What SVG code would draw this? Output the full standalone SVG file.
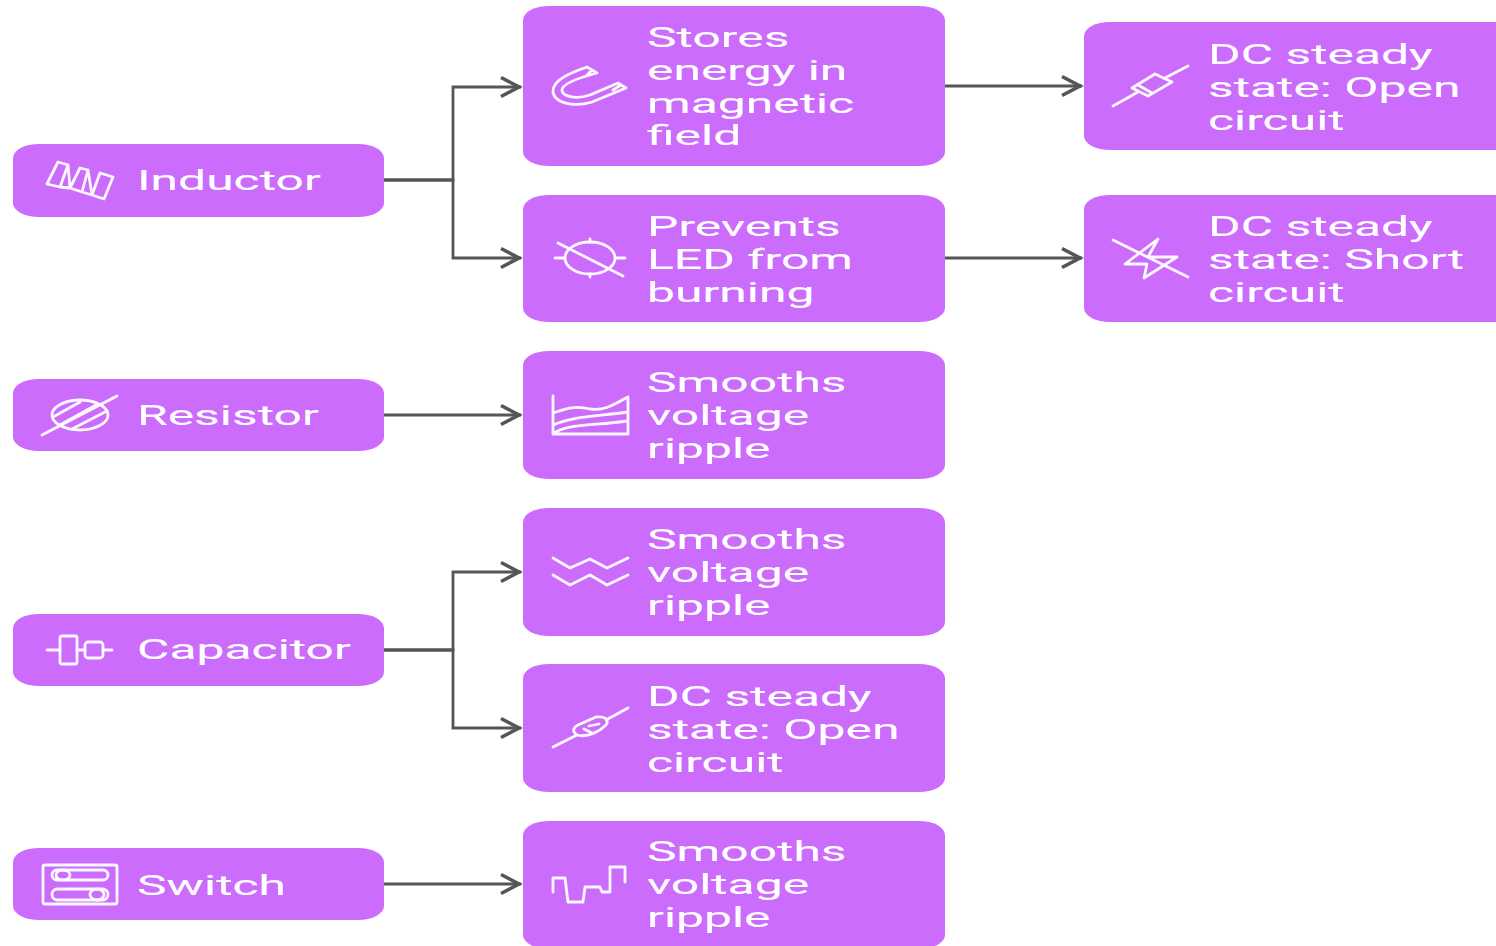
<svg xmlns="http://www.w3.org/2000/svg" width="1496" height="946" viewBox="0 0 1496 946">
<style>
.b{fill:#cc6cfc}
.t{font-family:Roboto,"Liberation Sans",sans-serif;font-size:14px;fill:#fff;font-weight:400;stroke:#fff;stroke-width:.06}
.i{fill:none;stroke:#fff;stroke-width:2.8;stroke-linecap:round;stroke-linejoin:round;opacity:.95}
.c{fill:none;stroke:#555;stroke-width:2.8}
</style>
<defs>
<filter id="s" x="-5%" y="-5%" width="110%" height="110%"><feGaussianBlur stdDeviation="0.75"/></filter>
<marker id="a" markerUnits="userSpaceOnUse" markerWidth="30" markerHeight="30" refX="22" refY="12" orient="auto"><path d="M2,2.5L20,12L2,21.5" fill="none" stroke="#555" stroke-width="3.6"/></marker>
</defs>
<rect width="1496" height="946" fill="#fff"/>
<g filter="url(#s)">
<g id="connectors">
<path class="c" marker-end="url(#a)" d="M384,180H453V87H521"/>
<path class="c" marker-end="url(#a)" d="M384,180H453V258H521"/>
<path class="c" marker-end="url(#a)" d="M945,86H1082"/>
<path class="c" marker-end="url(#a)" d="M945,258H1082"/>
<path class="c" marker-end="url(#a)" d="M384,415H521"/>
<path class="c" marker-end="url(#a)" d="M384,650H453V572H521"/>
<path class="c" marker-end="url(#a)" d="M384,650H453V728H521"/>
<path class="c" marker-end="url(#a)" d="M384,884H521"/>
</g>
<g id="inductor"><rect class="b" x="13" y="144" width="371" height="73" rx="26" ry="14"/>
<path class="i" d="M47,184L58,162L68,165L60,187L47,184M68,165L70,188L60,187M70,188L80,168L88,170L82,192L70,188M88,170L92,195L82,192M92,195L100,173L113,177L104,199L92,195"/>
<text class="t" transform="translate(137,190) scale(3.56,2)">Inductor</text></g>
<g id="resistor"><rect class="b" x="13" y="379" width="371" height="72" rx="26" ry="14"/>
<ellipse class="i" cx="80" cy="415" rx="28" ry="15"/>
<path class="i" d="M42,435L117,396M53,417L80,402M58,426L96,405M72,429L107,411"/>
<text class="t" transform="translate(137,425) scale(3.56,2)">Resistor</text></g>
<g id="capacitor"><rect class="b" x="13" y="614" width="371" height="72" rx="26" ry="14"/>
<path class="i" d="M47,650H60M77,650H85M103,650H112"/><rect class="i" x="60" y="636" width="17" height="28" rx="2"/><rect class="i" x="85" y="642" width="18" height="16" rx="3"/>
<text class="t" transform="translate(137,659) scale(3.56,2)">Capacitor</text></g>
<g id="switch"><rect class="b" x="13" y="848" width="371" height="72" rx="26" ry="14"/>
<rect class="i" x="43" y="865" width="74" height="39" rx="2"/>
<rect class="i" x="52" y="870" width="56" height="10" rx="5"/><rect class="i" x="52" y="889" width="56" height="11" rx="5.5"/>
<ellipse class="i" cx="63" cy="875" rx="7" ry="5"/><ellipse class="i" cx="97" cy="894.500" rx="7" ry="5.500"/>
<text class="t" transform="translate(137,895) scale(3.56,2)">Switch</text></g>
<g id="stores"><rect class="b" x="523" y="6" width="422" height="160" rx="26" ry="14"/>
<path class="i" d="M587,67C570,73 553,80 553,91C553,102 572,108 592,102L626,88L618,83L590,95C575,100 562,96 562,90C562,84 578,78 597,73ZM592,70L587,75M621,85L613,90"/>
<text class="t" transform="translate(647,47) scale(3.56,2)"><tspan x="0">Stores</tspan><tspan x="0" dy="16.4">energy in</tspan><tspan x="0" dy="16.4">magnetic</tspan><tspan x="0" dy="16.4">field</tspan></text></g>
<g id="prevents"><rect class="b" x="523" y="195" width="422" height="127" rx="26" ry="14"/>
<ellipse class="i" cx="590" cy="258" rx="25" ry="16"/>
<path class="i" d="M555,258H564M616,258H625M590,239V242M590,274V277M558,243L623,276"/>
<text class="t" transform="translate(647,236) scale(3.56,2)"><tspan x="0">Prevents</tspan><tspan x="0" dy="16.4">LED from</tspan><tspan x="0" dy="16.4">burning</tspan></text></g>
<g id="smooths-a"><rect class="b" x="523" y="351" width="422" height="128" rx="26" ry="14"/>
<path class="i" d="M553,396V434H628V397C615,404 605,411 590,409C575,405 565,409 553,413M553,425C570,417 590,417 628,412M553,434C565,424 590,426 628,421"/>
<text class="t" transform="translate(647,392) scale(3.56,2)"><tspan x="0">Smooths</tspan><tspan x="0" dy="16.4">voltage</tspan><tspan x="0" dy="16.4">ripple</tspan></text></g>
<g id="smooths-b"><rect class="b" x="523" y="508" width="422" height="128" rx="26" ry="14"/>
<path class="i" d="M553,558L570,568L590,559L607,568L628,558M553,575L570,585L590,575L607,585L628,575"/>
<text class="t" transform="translate(647,549) scale(3.56,2)"><tspan x="0">Smooths</tspan><tspan x="0" dy="16.4">voltage</tspan><tspan x="0" dy="16.4">ripple</tspan></text></g>
<g id="dc-open-b"><rect class="b" x="523" y="664" width="422" height="128" rx="26" ry="14"/>
<path class="i" d="M553,747L577,735M606,720L628,708M577,735C571,731 574,727 578,725L596,717C604,716 610,719 606,725C600,731 588,738 577,735ZM584,729L592,733M589,726L599,724"/>
<text class="t" transform="translate(647,706) scale(3.56,2)"><tspan x="0">DC steady</tspan><tspan x="0" dy="16.4">state: Open</tspan><tspan x="0" dy="16.4">circuit</tspan></text></g>
<g id="smooths-c"><rect class="b" x="523" y="821" width="422" height="128" rx="26" ry="14"/>
<path class="i" d="M553,892V878H565L568,902H583L585,887H600L602,892H610V867H625V882"/>
<text class="t" transform="translate(647,861) scale(3.56,2)"><tspan x="0">Smooths</tspan><tspan x="0" dy="16.4">voltage</tspan><tspan x="0" dy="16.4">ripple</tspan></text></g>
<g id="dc-open-a"><rect class="b" x="1084" y="22" width="440" height="128" rx="26" ry="14"/>
<path class="i" d="M1113,106L1138,92M1165,78L1188,66M1132,88L1155,74L1172,82L1148,96ZM1138,85L1152,93"/>
<text class="t" transform="translate(1208,64) scale(3.56,2)"><tspan x="0">DC steady</tspan><tspan x="0" dy="16.4">state: Open</tspan><tspan x="0" dy="16.4">circuit</tspan></text></g>
<g id="dc-short"><rect class="b" x="1084" y="195" width="440" height="127" rx="26" ry="14"/>
<path class="i" d="M1113,240L1188,277M1158,239L1148,257H1177L1144,278L1147,264H1125Z"/>
<text class="t" transform="translate(1208,236) scale(3.56,2)"><tspan x="0">DC steady</tspan><tspan x="0" dy="16.4">state: Short</tspan><tspan x="0" dy="16.4">circuit</tspan></text></g>
</g>
</svg>
